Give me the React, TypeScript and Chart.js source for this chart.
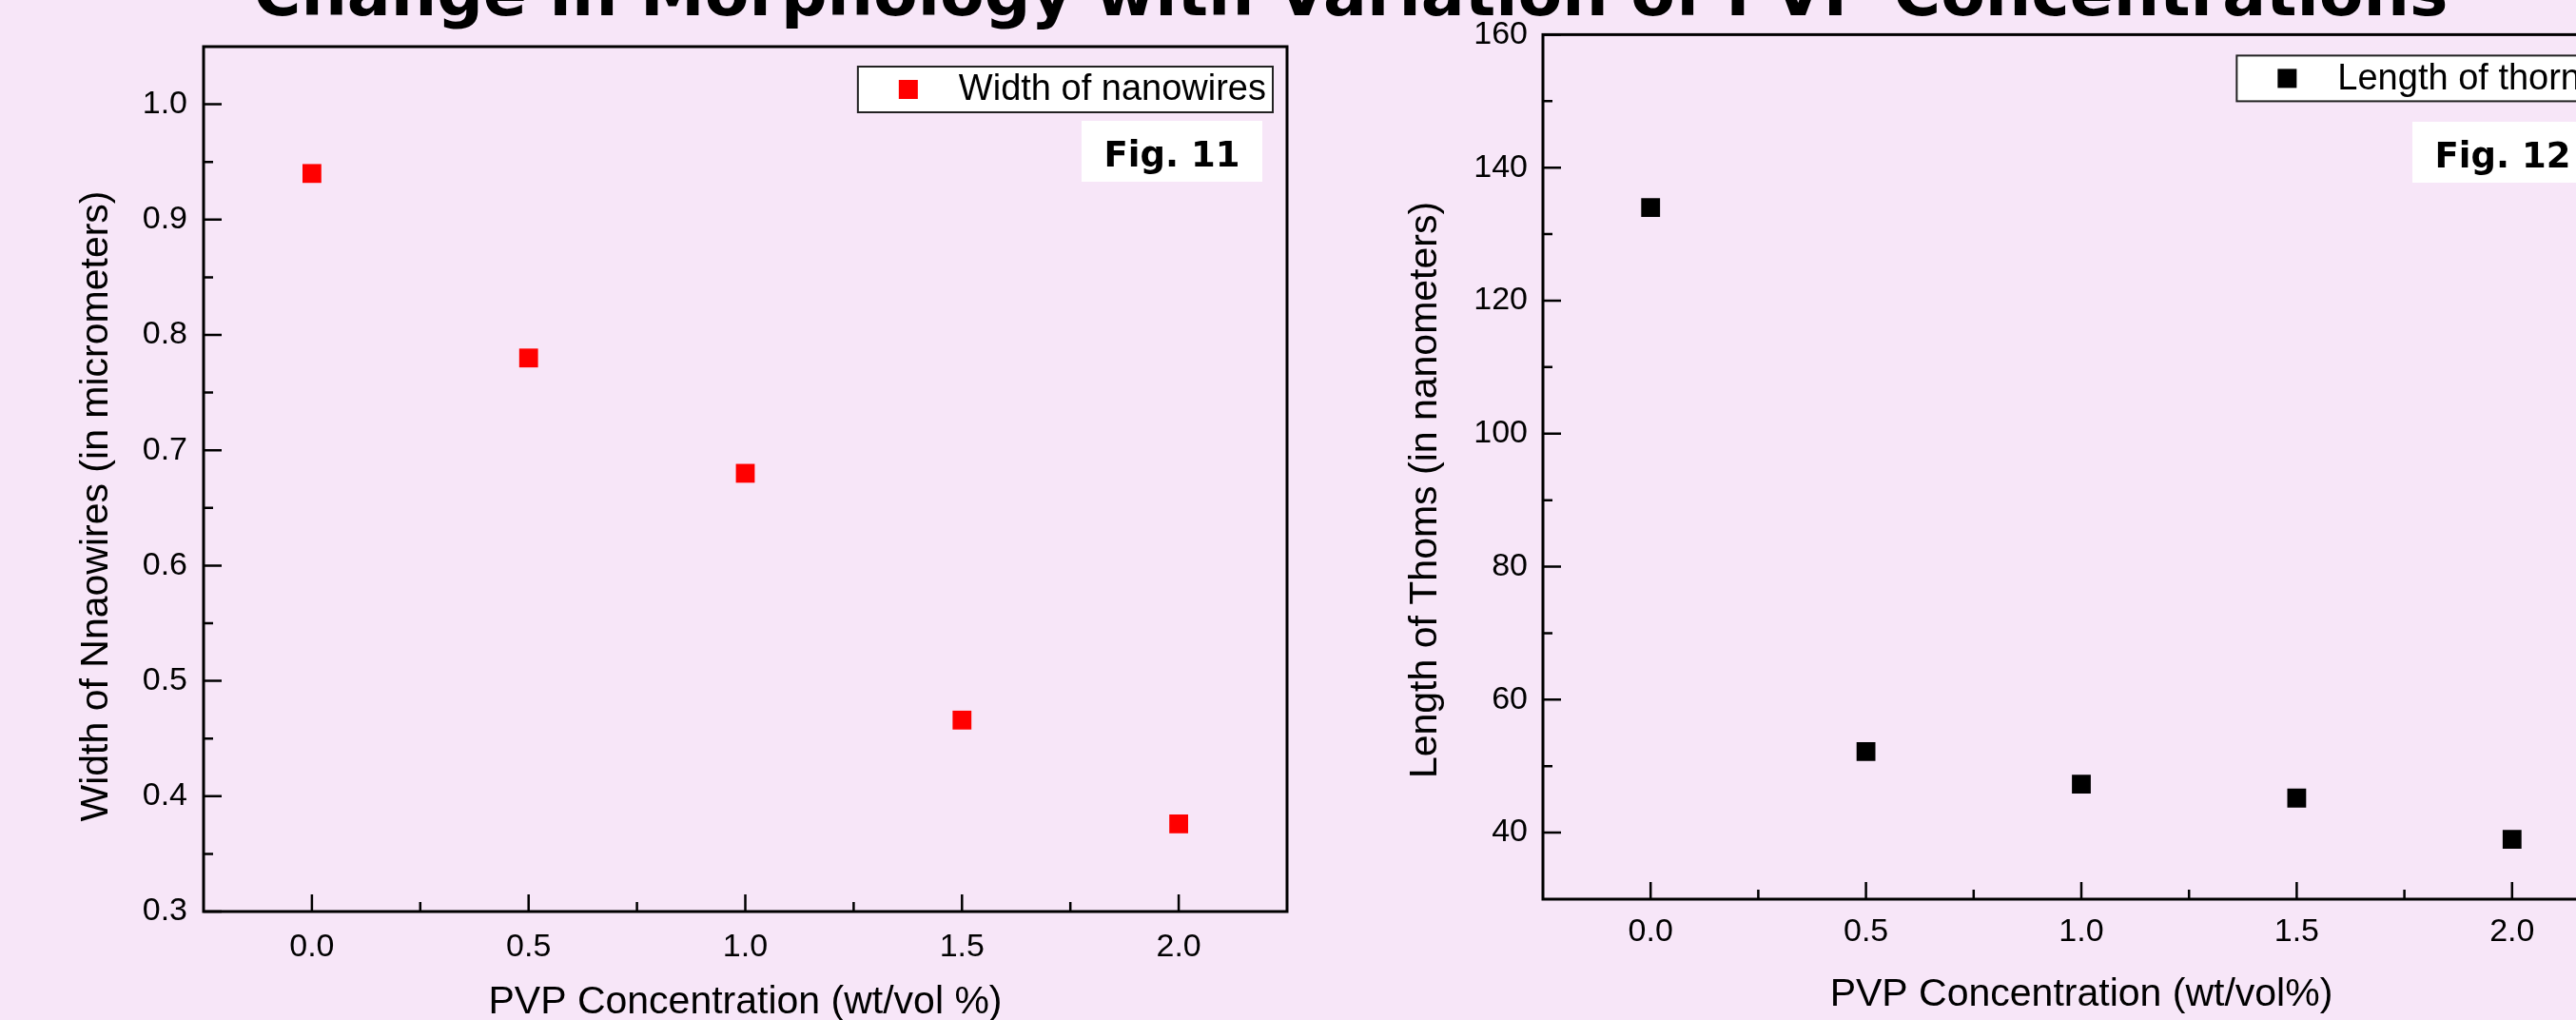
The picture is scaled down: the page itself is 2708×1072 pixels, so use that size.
import React, { useEffect, useRef } from "react";
import { Chart, registerables } from "chart.js";

Chart.register(...registerables);

// ---------- data ----------
const pvpConcentration = [0, 0.5, 1.0, 1.5, 2.0];
const nanowireWidth = [0.94, 0.78, 0.68, 0.466, 0.376];
const thornLength = [134, 52.2, 47.3, 45.2, 39.0];

const xMajorTicks = [0, 0.5, 1.0, 1.5, 2.0];
const xMinorTicks = [0.25, 0.75, 1.25, 1.75];
const widthMajorTicks = [0.3, 0.4, 0.5, 0.6, 0.7, 0.8, 0.9, 1.0];
const widthMinorTicks = [0.35, 0.45, 0.55, 0.65, 0.75, 0.85, 0.95];
const lengthMajorTicks = [40, 60, 80, 100, 120, 140, 160];
const lengthMinorTicks = [50, 70, 90, 110, 130, 150];

const MAIN_TITLE = "Change in Morphology with Variation of PVP Concentrations";

// ---------- styling ----------
const BG = "#F7E6F8";
const SANS = '"Liberation Sans", Arial, sans-serif';
const BOLD_SANS = '"DejaVu Sans", Verdana, sans-serif';

type Panel = {
  left: number;
  canvasWidth: number;
  padTop: number;
  padRight: number;
  yAxisWidth: number;
  xAxisHeight: number;
  yMin: number;
  yMax: number;
  yMajor: number[];
  yMinor: number[];
  yDecimals: number;
  values: number[];
  label: string;
  color: string;
  xTitle: string;
  yTitle: string;
  yTitleX: number;
  yTitleY: number;
  xTitlePadBottom: number;
  xLabelPad: number;
  yLabelPad: number;
  fig: string;
  figTop: number;
  figRightInset: number;
  legendTopOffset: number;
  legendRightInset: number;
};

const panels: Panel[] = [
  {
    left: 0,
    canvasWidth: 1400,
    padTop: 49,
    padRight: 47,
    yAxisWidth: 214,
    xAxisHeight: 114,
    yMin: 0.3,
    yMax: 1.05,
    yMajor: widthMajorTicks,
    yMinor: widthMinorTicks,
    yDecimals: 1,
    values: nanowireWidth,
    label: "Width of nanowires",
    color: "#FF0000",
    xTitle: "PVP Concentration (wt/vol %)",
    yTitle: "Width of Nnaowires (in micrometers)",
    yTitleX: 102,
    yTitleY: 532,
    xTitlePadBottom: -2,
    xLabelPad: 17,
    yLabelPad: 17,
    fig: "Fig. 11",
    figTop: 127,
    figRightInset: 26,
    legendTopOffset: 21,
    legendRightInset: 15,
  },
  {
    left: 1400,
    canvasWidth: 1400,
    padTop: 34,
    padRight: 46,
    yAxisWidth: 222,
    xAxisHeight: 127,
    yMin: 30,
    yMax: 160,
    yMajor: lengthMajorTicks,
    yMinor: lengthMinorTicks,
    yDecimals: 0,
    values: thornLength,
    label: "Length of thorns",
    color: "#000000",
    xTitle: "PVP Concentration (wt/vol%)",
    yTitle: "Length of Thoms (in nanometers)",
    yTitleX: 99,
    yTitleY: 515,
    xTitlePadBottom: 6,
    xLabelPad: 14,
    yLabelPad: 16,
    fig: "Fig. 12",
    figTop: 128,
    figRightInset: 28,
    legendTopOffset: 22,
    legendRightInset: 15,
  },
];

function makeDecor(p: Panel) {
  return {
    id: "decor",
    afterDraw(chart: any) {
      const { ctx, chartArea: a, scales } = chart;
      const xs = scales.x;
      const ys = scales.y;
      ctx.save();

      // frame
      ctx.strokeStyle = "#000";
      ctx.lineWidth = 3;
      ctx.strokeRect(a.left, a.top, a.right - a.left, a.bottom - a.top);

      // inward ticks
      ctx.lineWidth = 2.5;
      ctx.beginPath();
      xMajorTicks.forEach((v) => {
        const px = xs.getPixelForValue(v);
        ctx.moveTo(px, a.bottom);
        ctx.lineTo(px, a.bottom - 18);
      });
      xMinorTicks.forEach((v) => {
        const px = xs.getPixelForValue(v);
        ctx.moveTo(px, a.bottom);
        ctx.lineTo(px, a.bottom - 10);
      });
      p.yMajor.forEach((v) => {
        const py = ys.getPixelForValue(v);
        ctx.moveTo(a.left, py);
        ctx.lineTo(a.left + 19, py);
      });
      p.yMinor.forEach((v) => {
        const py = ys.getPixelForValue(v);
        ctx.moveTo(a.left, py);
        ctx.lineTo(a.left + 10, py);
      });
      ctx.stroke();

      // legend box
      const ds = chart.data.datasets[0];
      ctx.font = `38px ${SANS}`;
      const tw = ctx.measureText(ds.label).width;
      const bw = 106 + tw + 7;
      const bh = 48;
      const bx = a.right - p.legendRightInset - bw;
      const by = a.top + p.legendTopOffset;
      ctx.fillStyle = "#FFFFFF";
      ctx.fillRect(bx, by, bw, bh);
      ctx.lineWidth = 2;
      ctx.strokeStyle = "#222";
      ctx.strokeRect(bx, by, bw, bh);
      ctx.fillStyle = ds.backgroundColor;
      ctx.fillRect(bx + 43, by + bh / 2 - 10, 20, 20);
      ctx.fillStyle = "#000";
      ctx.textAlign = "left";
      ctx.textBaseline = "middle";
      ctx.fillText(ds.label, bx + 106, by + bh / 2 + 1);

      // figure label
      const fw = 190;
      const fh = 64;
      const fx = a.right - p.figRightInset - fw;
      const fy = p.figTop;
      ctx.fillStyle = "#FFFFFF";
      ctx.fillRect(fx, fy, fw, fh);
      ctx.fillStyle = "#000";
      ctx.font = `bold 37px ${BOLD_SANS}`;
      ctx.textAlign = "center";
      ctx.textBaseline = "alphabetic";
      ctx.fillText(p.fig, fx + fw / 2, fy + 48);

      // y axis title
      ctx.translate(p.yTitleX, p.yTitleY);
      ctx.rotate(-Math.PI / 2);
      ctx.font = `41px ${SANS}`;
      ctx.textAlign = "center";
      ctx.textBaseline = "middle";
      ctx.fillText(p.yTitle, 0, 0);

      ctx.restore();
    },
  };
}

function ChartPanel({ p }: { p: Panel }) {
  const ref = useRef<HTMLCanvasElement>(null);
  useEffect(() => {
    const canvas = ref.current;
    if (!canvas) return;
    const chart = new Chart(canvas, {
      type: "scatter",
      data: {
        datasets: [
          {
            label: p.label,
            data: pvpConcentration.map((x, i) => ({ x, y: p.values[i] })),
            backgroundColor: p.color,
            borderColor: p.color,
            borderWidth: 0,
            pointStyle: "rect",
            pointRadius: 14,
            pointHoverRadius: 14,
          },
        ],
      },
      options: {
        responsive: false,
        animation: false,
        events: [],
        layout: { padding: { top: p.padTop, right: p.padRight, left: 0, bottom: 0 } },
        plugins: {
          legend: { display: false },
          tooltip: { enabled: false },
          title: { display: false },
        },
        scales: {
          x: {
            type: "linear",
            position: "bottom",
            min: -0.25,
            max: 2.25,
            afterBuildTicks: (s: any) => {
              s.ticks = xMajorTicks.map((v) => ({ value: v }));
            },
            afterFit: (s: any) => {
              s.height = p.xAxisHeight;
            },
            grid: { display: false, drawTicks: false },
            border: { display: false },
            ticks: {
              padding: p.xLabelPad,
              color: "#000",
              font: { family: SANS, size: 34 },
              maxRotation: 0,
              autoSkip: false,
              callback: (v: any) => Number(v).toFixed(1),
            },
            title: {
              display: true,
              text: p.xTitle,
              color: "#000",
              font: { family: SANS, size: 41, lineHeight: 1 },
              padding: { top: 0, bottom: p.xTitlePadBottom },
            },
          },
          y: {
            type: "linear",
            position: "left",
            min: p.yMin,
            max: p.yMax,
            afterBuildTicks: (s: any) => {
              s.ticks = p.yMajor.map((v) => ({ value: v }));
            },
            afterFit: (s: any) => {
              s.width = p.yAxisWidth;
            },
            grid: { display: false, drawTicks: false },
            border: { display: false },
            ticks: {
              padding: p.yLabelPad,
              color: "#000",
              font: { family: SANS, size: 34 },
              autoSkip: false,
              callback: (v: any) => Number(v).toFixed(p.yDecimals),
            },
            title: { display: false },
          },
        },
      },
      plugins: [makeDecor(p)],
    } as any);
    return () => chart.destroy();
  }, [p]);
  return (
    <canvas
      ref={ref}
      width={p.canvasWidth}
      height={1072}
      style={{
        position: "absolute",
        left: p.left,
        top: 0,
        width: p.canvasWidth,
        height: 1072,
        display: "block",
      }}
    />
  );
}

export default function App() {
  useEffect(() => {
    document.body.style.margin = "0";
    document.body.style.background = BG;
  }, []);
  return (
    <div
      style={{
        position: "fixed",
        left: 0,
        top: 0,
        width: 2708,
        height: 1072,
        overflow: "hidden",
        background: BG,
      }}
    >
      {panels.map((p, i) => (
        <ChartPanel key={i} p={p} />
      ))}
      <div
        style={{
          position: "absolute",
          left: 1420,
          top: -41.5,
          transform: "translateX(-50%)",
          fontFamily: BOLD_SANS,
          fontWeight: "bold",
          fontSize: 68,
          lineHeight: "68px",
          whiteSpace: "nowrap",
          color: "#000",
        }}
      >
        {MAIN_TITLE}
      </div>
    </div>
  );
}
